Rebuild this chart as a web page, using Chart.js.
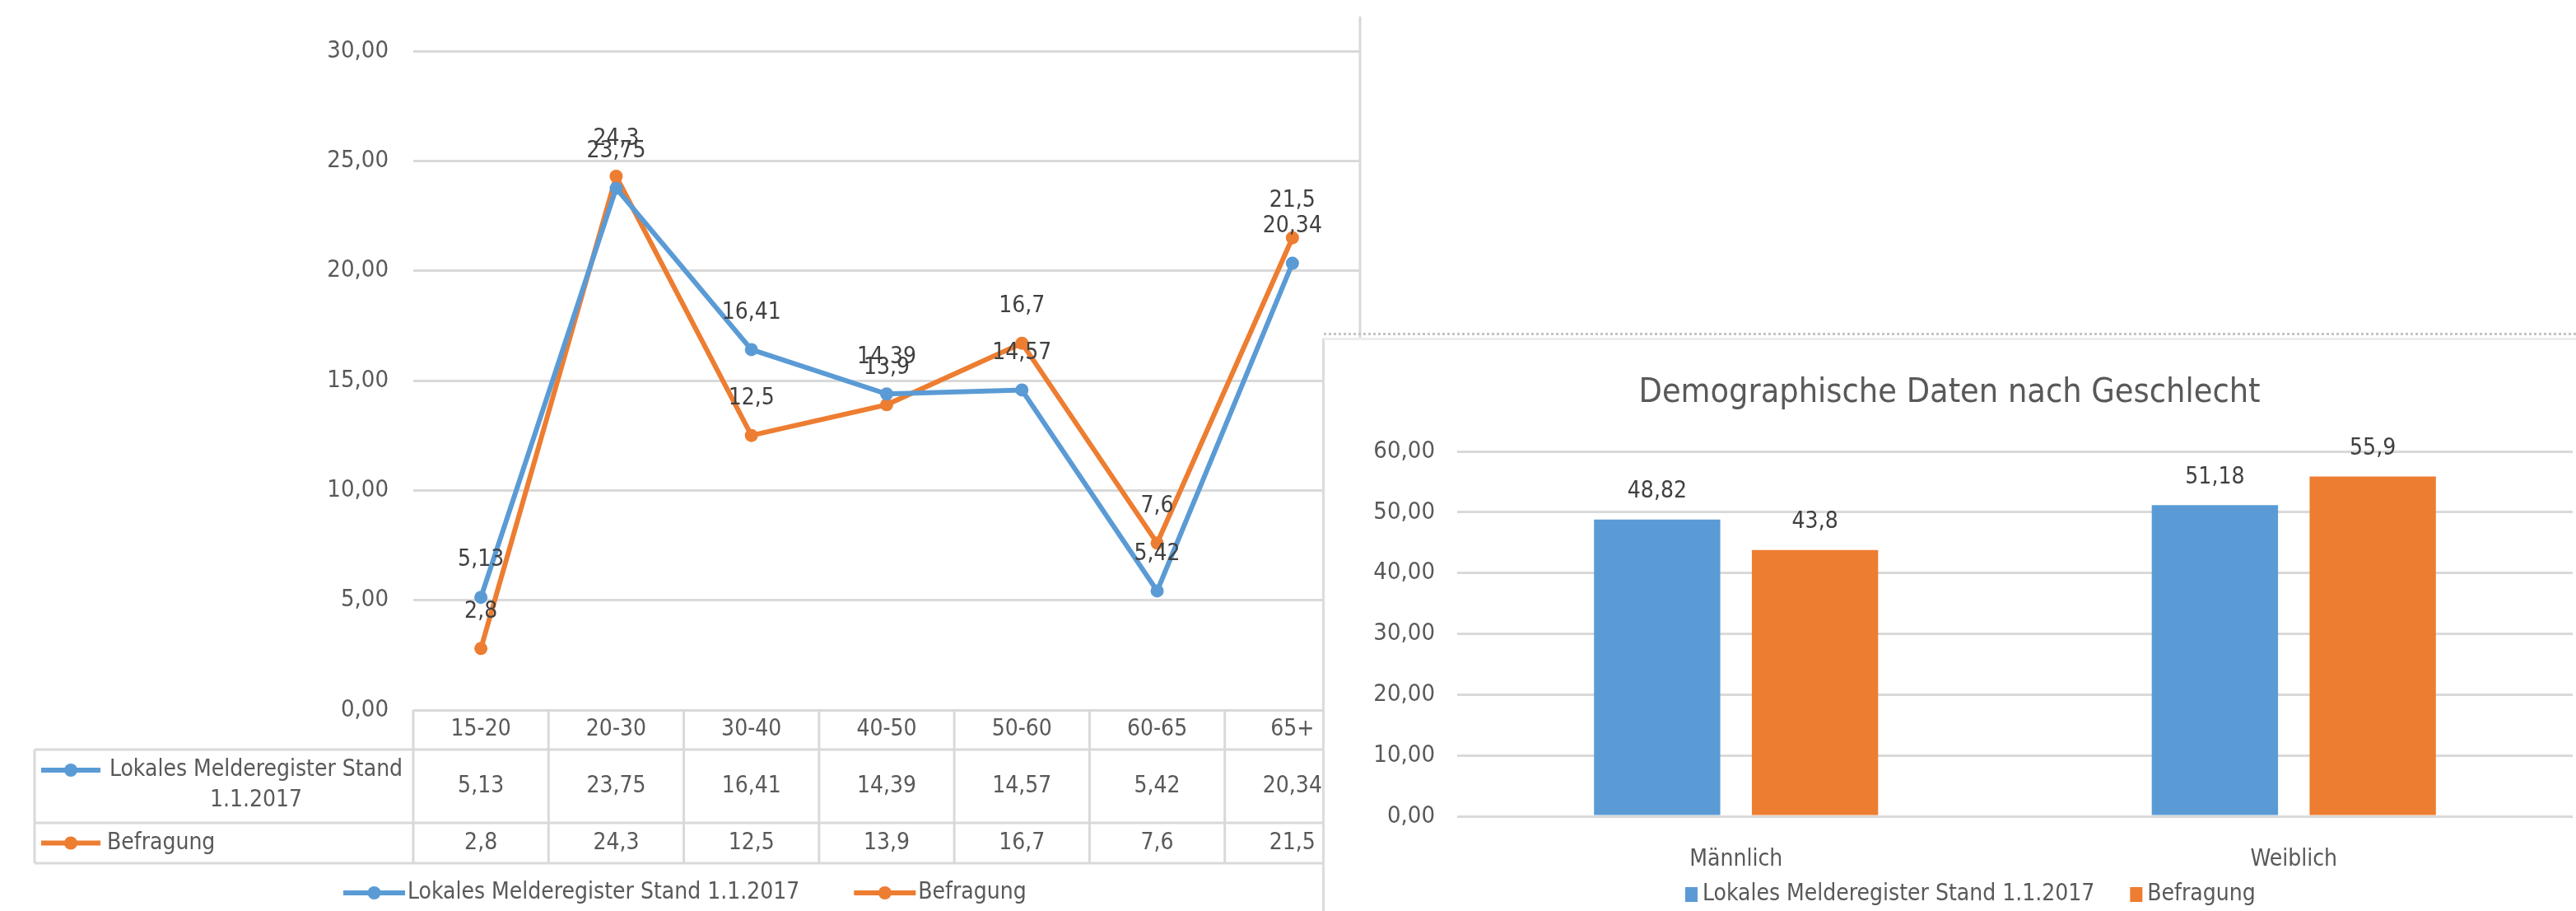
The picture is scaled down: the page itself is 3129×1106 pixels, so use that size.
<!DOCTYPE html>
<html>
<head>
<meta charset="utf-8">
<script src="https://cdn.jsdelivr.net/npm/chart.js@4.4.1/dist/chart.umd.min.js"></script>
<style>
  html, body { margin: 0; padding: 0; background: #fff; }
  body { width: 3129px; height: 1106px; position: relative; overflow: hidden; }
  #lineWrap { position: absolute; left: 0; top: 0; width: 1660px; height: 1106px; }
  #dashLine { position: absolute; left: 1608px; top: 404px; width: 1521px; height: 0; border-top: 3px dotted #c4c4c4; }
  #panel { position: absolute; left: 1606px; top: 410px; width: 1523px; height: 696px; background: #fff;
           border-left: 3px solid #dcdcdc; border-top: 3px solid #ececec; box-sizing: border-box; }
  #barWrap { position: absolute; left: 1611px; top: 413px; width: 1518px; height: 693px; }
</style>
</head>
<body>
<div id="lineWrap"><canvas id="lineChart"></canvas></div>
<div id="dashLine"></div>
<div id="panel"></div>
<div id="barWrap"><canvas id="barChart"></canvas></div>

<script>
// data
const ageGroups = ['15-20', '20-30', '30-40', '40-50', '50-60', '60-65', '65+'];
const melderegister = [5.13, 23.75, 16.41, 14.39, 14.57, 5.42, 20.34];
const befragung = [2.8, 24.3, 12.5, 13.9, 16.7, 7.6, 21.5];

const genders = ['Männlich', 'Weiblich'];
const genderMelderegister = [48.82, 51.18];
const genderBefragung = [43.8, 55.9];

const seriesNames = ['Lokales Melderegister Stand 1.1.2017', 'Befragung'];
const barTitle = 'Demographische Daten nach Geschlecht';

const blue = '#5B9BD5';
const orange = '#ED7D31';
const textGray = '#595959';
const gridGray = '#d9d9d9';
const fontFamily = "'DejaVu Sans Condensed', 'Liberation Sans', sans-serif";
const textFont = '28px ' + fontFamily;

Chart.defaults.font.family = fontFamily;
Chart.defaults.font.size = 29;
Chart.defaults.color = textGray;

function comma(v) {
    return String(v).replace('.', ',');
}

// value labels above points / bars
function makeValueLabels(offset) {
    return {
        id: 'valueLabels',
        afterDatasetsDraw(chart) {
            const ctx = chart.ctx;
            ctx.save();
            ctx.font = textFont;
            ctx.fillStyle = '#404040';
            ctx.textAlign = 'center';
            ctx.textBaseline = 'middle';
            chart.data.datasets.forEach((ds, i) => {
                chart.getDatasetMeta(i).data.forEach((el, j) => {
                    ctx.fillText(comma(ds.data[j]), el.x, el.y - offset);
                });
            });
            ctx.restore();
        }
    };
}

function drawLine(ctx, x1, y1, x2, y2) {
    ctx.beginPath();
    ctx.moveTo(x1, y1);
    ctx.lineTo(x2, y2);
    ctx.stroke();
}

function drawMarkerLine(ctx, x1, x2, y, color) {
    ctx.save();
    ctx.strokeStyle = color;
    ctx.fillStyle = color;
    ctx.lineWidth = 6;
    drawLine(ctx, x1, y, x2, y);
    ctx.beginPath();
    ctx.arc((x1 + x2) / 2, y, 8, 0, Math.PI * 2);
    ctx.fill();
    ctx.restore();
}

// data table + legend under the line chart
const tablePlugin = {
    id: 'dataTable',
    afterDraw(chart) {
        const ctx = chart.ctx;
        const xs = chart.scales.x;
        const area = chart.chartArea;
        const colW = (area.right - area.left) / ageGroups.length;
        const top = area.bottom;
        const hdrBottom = top + 48;
        const row1Bottom = top + 137;
        const row2Bottom = top + 186;
        const labelLeft = 42;

        ctx.save();
        ctx.strokeStyle = gridGray;
        ctx.lineWidth = 3;
        drawLine(ctx, area.right, 20, area.right, top);
        [hdrBottom, row1Bottom, row2Bottom].forEach(y => drawLine(ctx, labelLeft, y, area.right, y));
        drawLine(ctx, labelLeft, hdrBottom, labelLeft, row2Bottom);
        for (let i = 0; i < ageGroups.length; i++) {
            const px = xs.getPixelForValue(i) - colW / 2;
            drawLine(ctx, px, top, px, row2Bottom);
        }

        ctx.font = textFont;
        ctx.fillStyle = textGray;
        ctx.textAlign = 'center';
        ctx.textBaseline = 'middle';
        const r1 = (hdrBottom + row1Bottom) / 2;
        const r2 = (row1Bottom + row2Bottom) / 2;
        ageGroups.forEach((g, i) => {
            const cx = xs.getPixelForValue(i);
            ctx.fillText(g, cx, (top + hdrBottom) / 2);
            ctx.fillText(comma(melderegister[i]), cx, r1);
            ctx.fillText(comma(befragung[i]), cx, r2);
        });

        // row headers
        drawMarkerLine(ctx, 50, 122, top + 73, blue);
        drawMarkerLine(ctx, 50, 122, r2, orange);
        ctx.fillText('Lokales Melderegister Stand', 311, top + 73);
        ctx.fillText('1.1.2017', 311, top + 110);
        ctx.textAlign = 'left';
        ctx.fillText(seriesNames[1], 130, r2);

        // legend
        const ly = 1084;
        let lx = 417;
        [[seriesNames[0], blue], [seriesNames[1], orange]].forEach(([name, color]) => {
            drawMarkerLine(ctx, lx, lx + 75, ly, color);
            ctx.fillStyle = textGray;
            ctx.fillText(name, lx + 78, ly);
            lx += 78 + ctx.measureText(name).width + 66;
        });
        ctx.restore();
    }
};

new Chart(document.getElementById('lineChart'), {
    type: 'line',
    data: {
        labels: ageGroups,
        datasets: [
            { label: seriesNames[0], data: melderegister, borderColor: blue, backgroundColor: blue, pointBackgroundColor: blue },
            { label: seriesNames[1], data: befragung, borderColor: orange, backgroundColor: orange, pointBackgroundColor: orange }
        ]
    },
    options: {
        responsive: true,
        maintainAspectRatio: false,
        animation: false,
        layout: { padding: { top: 62, right: 2, bottom: 244, left: 0 } },
        elements: {
            line: { borderWidth: 6, tension: 0 },
            point: { radius: 8, borderWidth: 0 }
        },
        plugins: { legend: { display: false }, tooltip: { enabled: false } },
        scales: {
            x: { display: false, offset: true },
            y: {
                min: 0, max: 30,
                ticks: { stepSize: 5, padding: 30, callback: v => v.toFixed(2).replace('.', ',') },
                grid: { color: gridGray, lineWidth: 3, drawTicks: false },
                border: { display: false },
                afterFit(s) { s.width = 502; }
            }
        }
    },
    plugins: [makeValueLabels(45), tablePlugin]
});

// legend for the bar chart
const barLegend = {
    id: 'barLegend',
    afterDraw(chart) {
        const ctx = chart.ctx;
        const y = 673;
        let x = chart.chartArea.left + 277;
        ctx.save();
        ctx.font = textFont;
        ctx.textAlign = 'left';
        ctx.textBaseline = 'middle';
        [[seriesNames[0], blue], [seriesNames[1], orange]].forEach(([name, color]) => {
            ctx.fillStyle = color;
            ctx.fillRect(x, y - 9, 15, 18);
            ctx.fillStyle = textGray;
            ctx.fillText(name, x + 21, y);
            x += 21 + ctx.measureText(name).width + 43;
        });
        ctx.restore();
    }
};

new Chart(document.getElementById('barChart'), {
    type: 'bar',
    data: {
        labels: genders,
        datasets: [
            { label: seriesNames[0], data: genderMelderegister, backgroundColor: blue },
            { label: seriesNames[1], data: genderBefragung, backgroundColor: orange }
        ]
    },
    options: {
        responsive: true,
        maintainAspectRatio: false,
        animation: false,
        layout: { padding: { top: 0, right: 4, bottom: 45, left: 0 } },
        datasets: { bar: { categoryPercentage: 0.566, barPercentage: 0.8 } },
        plugins: {
            legend: { display: false },
            tooltip: { enabled: false },
            title: {
                display: true, text: barTitle, color: textGray,
                font: { size: 41, weight: 'normal' },
                padding: { top: 40, bottom: 46 }
            }
        },
        scales: {
            x: {
                grid: { display: false },
                border: { display: false },
                ticks: { padding: 28, font: { size: 28 } },
                afterFit(s) { s.height = 70; }
            },
            y: {
                min: 0, max: 60,
                ticks: { stepSize: 10, padding: 27, callback: v => v.toFixed(2).replace('.', ',') },
                grid: { color: gridGray, lineWidth: 3, drawTicks: false },
                border: { display: false },
                afterFit(s) { s.width = 159; }
            }
        }
    },
    plugins: [makeValueLabels(34), barLegend]
});
</script>
</body>
</html>
